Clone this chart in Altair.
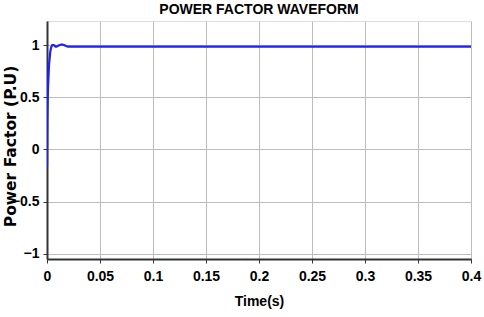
import altair as alt
import pandas as pd

time_s = [0.0, 0.0003, 0.0006, 0.001, 0.0015, 0.002, 0.003, 0.004, 0.005, 0.006, 0.007,
          0.008, 0.009, 0.010, 0.011, 0.012, 0.013, 0.014, 0.015, 0.016, 0.017, 0.018,
          0.019, 0.020, 0.4]
power_factor = [-0.17, 0.25, 0.45, 0.6, 0.72, 0.82, 0.93, 0.98, 1.0, 1.0, 0.995,
                0.985, 0.985, 0.99, 0.995, 1.0, 1.003, 1.005, 1.003, 1.0, 0.995, 0.99,
                0.987, 0.985, 0.985]

x_ticks = [0, 0.05, 0.1, 0.15, 0.2, 0.25, 0.3, 0.35, 0.4]
y_ticks = [-1, -0.5, 0, 0.5, 1]

df = pd.DataFrame({"t": time_s, "pf": power_factor})

font = "Liberation Sans"
wide = "DejaVu Sans"

chart = alt.Chart(df).mark_line(color="#1f1fff", strokeWidth=2.2, clip=True).encode(
    x=alt.X("t:Q", scale=alt.Scale(domain=[0, 0.4], nice=False, zero=False),
            axis=alt.Axis(values=x_ticks, title="Time(s)", format="~g",
                          labelFontSize=14, labelFontWeight="bold", labelColor="#000",
                          titleFontSize=14, titleFontWeight="bold", titleColor="#000",
                          titlePadding=11, labelPadding=6, tickSize=4, tickColor="#333",
                          domainColor="#333", domainWidth=2, gridColor="#bdbdbd",
                          labelFont=font, titleFont=font, labelFlush=False)),
    y=alt.Y("pf:Q", scale=alt.Scale(domain=[-1.05, 1.23], nice=False, zero=False),
            axis=alt.Axis(values=y_ticks, title="Power Factor (P.U)", format="~g",
                          labelFontSize=14, labelFontWeight="bold", labelColor="#000",
                          titleFontSize=15.5, titleFontWeight="bold", titleColor="#000",
                          titleX=-37, titleY=125, titleAngle=-90, titleAlign="center",
                          titleBaseline="middle",
                          labelPadding=4, tickSize=4, tickColor="#333",
                          domainColor="#333", domainWidth=2, gridColor="#bdbdbd",
                          labelFont=font, titleFont=wide)),
).properties(
    width=424, height=238,
    title=alt.TitleParams("POWER FACTOR WAVEFORM", fontSize=14, fontWeight="bold",
                          font=font, color="#000", anchor="middle", offset=4),
    autosize=alt.AutoSizeParams(type="none"),
    padding={"left": 47, "top": 21, "right": 13, "bottom": 58},
).configure_view(stroke="#555", strokeWidth=1.2).configure(background="white")

chart.save("out.html", embed_options={"renderer": "svg", "actions": False})
